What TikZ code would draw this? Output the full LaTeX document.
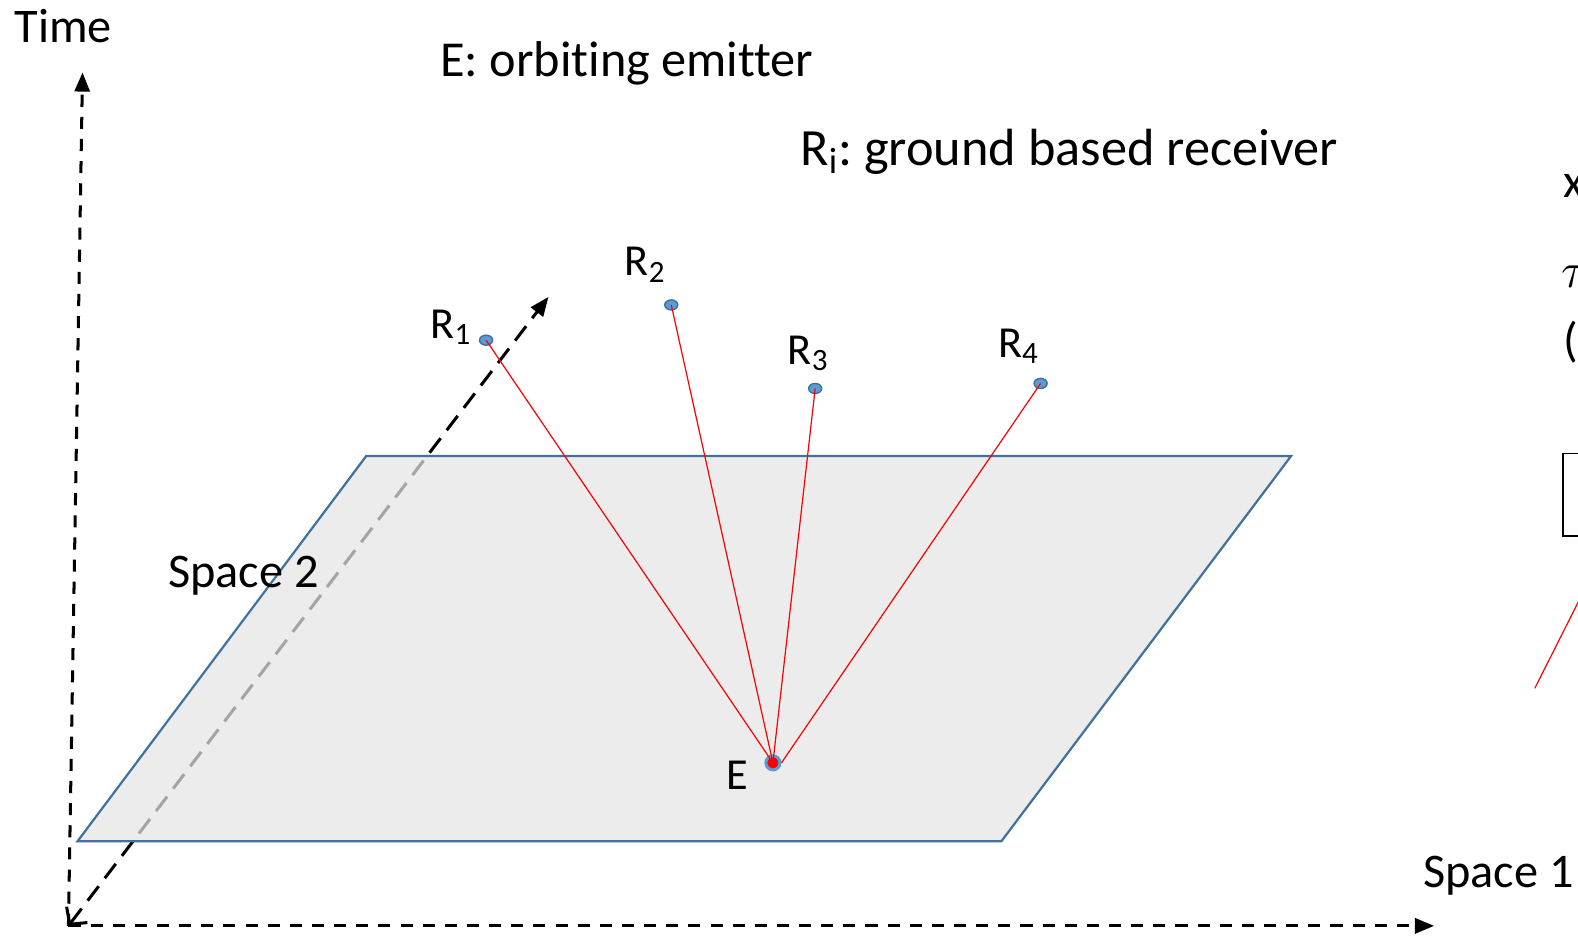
\documentclass[tikz,border=0pt]{standalone}
\usepackage{fontspec}
\setmainfont[Ligatures=NoCommon]{Carlito}
\usetikzlibrary{shapes,arrows.meta,positioning}
\definecolor{planefill}{HTML}{E4E4E4}
\definecolor{planeedge}{HTML}{41719C}
\definecolor{dotblue}{HTML}{5B9BD5}
\definecolor{dotedge}{HTML}{41719C}
\frenchspacing

\begin{document}
\begin{tikzpicture}[x=0.5pt, y=-0.5pt,
  axis/.style={dash pattern=on 6pt off 5pt, line width=1.5pt, black},
  tip/.style={-{Triangle[length=9.5pt,width=7.5pt]}},
  plane/.style={draw=planeedge, line width=1.1pt, fill=planefill, fill opacity=0.72},
  rx/.style={ellipse, draw=dotedge, fill=dotblue, line width=0.7pt,
    minimum width=6.5pt, minimum height=5pt, inner sep=0pt},
  sig/.style={red, line width=0.6pt},
  lbl/.style={font=\fontsize{22}{26}\selectfont, inner sep=0pt},
  big/.style={font=\fontsize{24}{28}\selectfont, inner sep=0pt},
  every node/.style={align=left}
]
\useasboundingbox (0,0) rectangle (1568,931);
\clip (0,0) rectangle (1568,931);

% axes
\coordinate (o) at (68,920);
\coordinate (t) at (82,72);
\coordinate (s1) at (1425,920);
\coordinate (s2) at (545,295);
\draw[axis, tip] (o) -- (t);
\draw[axis, tip] (o) -- (s1);
\draw[axis, dash pattern=on 9pt off 5pt,
  {Straight Barb[length=6pt,width=13pt,line width=1.5pt]}-{Triangle[length=9.5pt,width=7.5pt]}] (o) -- (s2);

% ground plane
\draw[plane] (77,836) -- (995,836) -- (1283,453) -- (364,453) -- cycle;

\node[big] (time) at (63,26) {Time};
\node[big] (sp1) at (1489,870) {Space 1};
\node[big] (sp2) at (242,572) {Space 2};
\node[big, anchor=west, font=\fontsize{25}{30}\selectfont] (emit) at (437,63) {E: orbiting emitter};
\node[big, anchor=west, font=\fontsize{26}{31}\selectfont] (recv) at (795,151)
  {R\textsubscript{i}: ground based receiver};

% receivers and emitter
\node[rx] (r1) at (483,338) {};
\node[rx] (r2) at (667,303) {};
\node[rx] (r3) at (810,386) {};
\node[rx] (r4) at (1034,381) {};
\node[circle, fill=red, draw=dotblue, line width=1.5pt, minimum size=7pt, inner sep=0pt] (e) at (768,758) {};

\draw[sig] (e.center) -- (r1.center);
\draw[sig] (e.center) -- (r2.center);
\draw[sig] (e.center) -- (r3.center);
\draw[sig] (e.east) -- (r4.center);

\node[lbl] (l1) at (448,325) {R\textsubscript{1}};
\node[lbl] (l2) at (641,263) {R\textsubscript{2}};
\node[lbl] (l3) at (803,351) {R\textsubscript{3}};
\node[lbl] (l4) at (1012,344) {R\textsubscript{4}};
\node[lbl] (le) at (733,770) {E};

% cut off at the right edge
\node[big, anchor=west] (xa) at (1553,185) {x};
\node[big, anchor=west] (tau) at (1551,275) {$\tau$};
\node[big, anchor=west] (par) at (1553,340) {(};
\node[draw, line width=0.8pt, minimum width=40pt, minimum height=41pt,
  anchor=north west] (bx) at (1552,450) {};
\coordinate (ra) at (1525,684);
\coordinate (rb) at (1585,565);
\draw[sig] (ra) -- (rb);

\end{tikzpicture}
\end{document}
